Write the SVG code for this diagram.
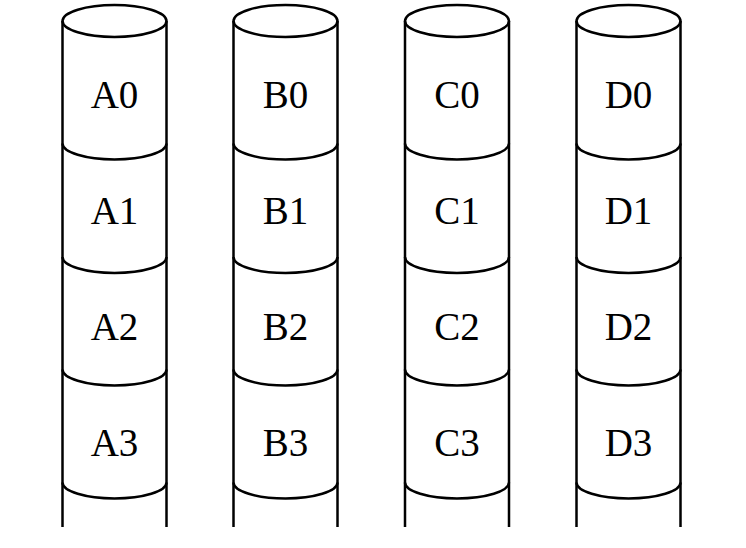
<svg xmlns="http://www.w3.org/2000/svg" width="746" height="548" viewBox="0 0 746 548">
<style>
.s{fill:none;stroke:#000;stroke-width:2.5}
.t{font-family:"Liberation Serif","Times New Roman",serif;font-size:39px;text-anchor:middle;fill:#000}
</style>
<defs>
<g id="cyl">
<line class="s" x1="-52" y1="21" x2="-52" y2="527"/>
<line class="s" x1="52" y1="21" x2="52" y2="527"/>
<ellipse class="s" cx="0" cy="21" rx="52" ry="16"/>
<path class="s" d="M-52 143.5 A52 16 0 0 0 52 143.5"/>
<path class="s" d="M-52 257 A52 16 0 0 0 52 257"/>
<path class="s" d="M-52 369.5 A52 16 0 0 0 52 369.5"/>
<path class="s" d="M-52 482.5 A52 16 0 0 0 52 482.5"/>
</g>
</defs>
<g id="colA" transform="translate(114.5,0)">
<use href="#cyl"/>
<text class="t" x="0" y="108">A0</text><text class="t" x="0" y="224">A1</text><text class="t" x="0" y="340">A2</text><text class="t" x="0" y="456">A3</text>
</g>
<g id="colB" transform="translate(285.5,0)">
<use href="#cyl"/>
<text class="t" x="0" y="108">B0</text><text class="t" x="0" y="224">B1</text><text class="t" x="0" y="340">B2</text><text class="t" x="0" y="456">B3</text>
</g>
<g id="colC" transform="translate(457,0)">
<use href="#cyl"/>
<text class="t" x="0" y="108">C0</text><text class="t" x="0" y="224">C1</text><text class="t" x="0" y="340">C2</text><text class="t" x="0" y="456">C3</text>
</g>
<g id="colD" transform="translate(628.5,0)">
<use href="#cyl"/>
<text class="t" x="0" y="108">D0</text><text class="t" x="0" y="224">D1</text><text class="t" x="0" y="340">D2</text><text class="t" x="0" y="456">D3</text>
</g>
<g id="connectors"/>
</svg>
